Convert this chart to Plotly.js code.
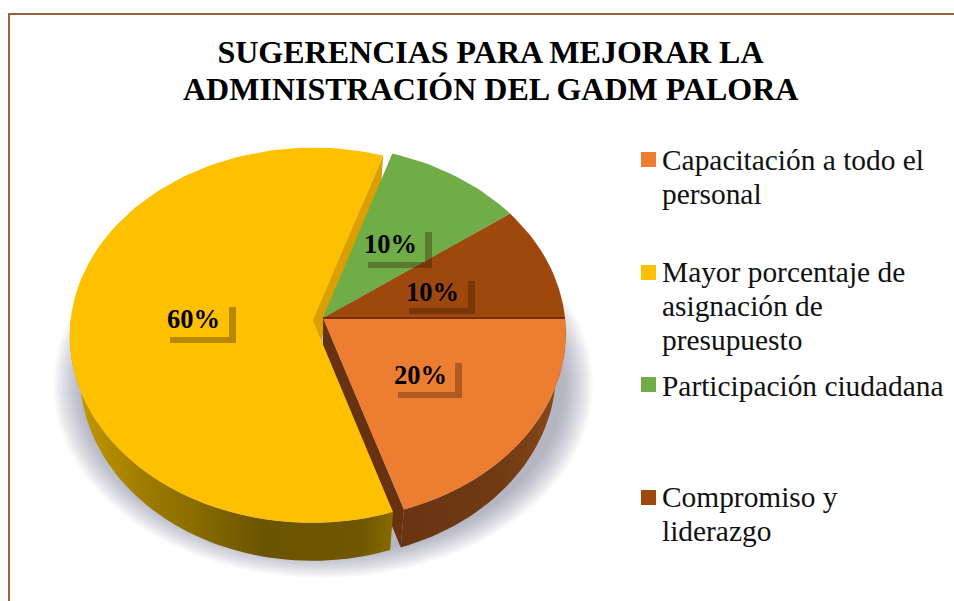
<!DOCTYPE html>
<html>
<head>
<meta charset="utf-8">
<script src="https://cdn.plot.ly/plotly-3.0.1.min.js"></script>
<style>html,body{margin:0;padding:0;background:#fff}#chart{width:954px;height:601px}</style>
</head>
<body>
<div id="chart"></div>
<script>
const titleLines = ['SUGERENCIAS PARA MEJORAR LA', 'ADMINISTRACIÓN DEL GADM PALORA'];
const categories = ['Capacitación a todo el<br>personal', 'Mayor porcentaje de<br>asignación de<br>presupuesto', 'Participación ciudadana', 'Compromiso y<br>liderazgo'];
const values = [20, 60, 10, 10];
const faceColors = ['#ED7D31', '#FFC000', '#70AD47', '#9E480E'];
const pullX = [0, -0.042, 0, 0];
const pullY = [0, 0.012, 0, 0];
const labelBoxes = [[392, 455, 357, 392], [164, 229, 301, 337], [362, 425, 226, 262], [403, 468, 275, 308]];
const legendSwatchY = [159.5, 272.5, 384.5, 497.5];
const legendFirstLineY = [160, 272, 386, 497];
const legendLineGap = 34;

const cx = 323, cy = 318, R = 242, Ry = 186, k = 0.08, depth = 38, shrink = 0.96;
const rad = d => d * Math.PI / 180;

function project(u, v, low) {
  const s = 1 / (1 - k * v);
  let x = cx + R * u * s, y = cy + Ry * v * s;
  if (low) { x = cx + (x - cx) * shrink; y += depth; }
  return [x, y];
}
let acc = 0;
const slices = values.map((val, i) => {
  const a0 = acc * 3.6; acc += val; const a1 = acc * 3.6;
  return { i, a0, a1, ox: pullX[i], oy: pullY[i] };
});
function arc(sl, low, from, to) {
  const pts = [], n = Math.max(1, Math.ceil(Math.abs(to - from) / 2));
  for (let j = 0; j <= n; j++) {
    const t = rad(from + (to - from) * j / n);
    pts.push(project(Math.cos(t) + sl.ox, Math.sin(t) + sl.oy, low));
  }
  return pts;
}
const apex = (sl, low) => project(sl.ox, sl.oy, low);
function poly(pts, extra) {
  return Object.assign({
    type: 'scatter', mode: 'lines', x: pts.map(p => p[0]), y: pts.map(p => p[1]),
    fill: 'toself', line: { width: 0 }, hoverinfo: 'skip', showlegend: false
  }, extra);
}
// only the front of the rim (east round to west) can be seen
const rimSide = sl => {
  const end = Math.min(sl.a1, 180);
  return arc(sl, false, sl.a0, end).concat(arc(sl, true, end, sl.a0));
};
const cutSide = (sl, a) => {
  const top = arc(sl, false, a, a)[0], low = arc(sl, true, a, a)[0];
  return [apex(sl, false), top, low, apex(sl, true)];
};
const faceOf = sl => [apex(sl, false)].concat(arc(sl, false, sl.a0, sl.a1));

const traces = [];
// soft shadow under the pie
for (let l = 0; l < 18; l++) {
  const rx = 270 - l * 1.7, ry = 193 - l * 1.4, pts = [];
  for (let a = 0; a <= 360; a += 3) pts.push([cx + rx * Math.cos(rad(a)), 385 + ry * Math.sin(rad(a))]);
  traces.push(poly(pts, { fillcolor: 'rgba(125,125,130,0.035)' }));
}
const [sOrange, sYellow, sGreen, sBrown] = slices;
traces.push(poly(cutSide(sYellow, sYellow.a1), { fillcolor: '#D9A000' }));
traces.push(poly(cutSide(sGreen, sGreen.a0), { fillcolor: '#70AD47' }));
traces.push(poly(rimSide(sOrange), { fillgradient: { type: 'horizontal', colorscale: [[0, '#6A3412'], [0.6, '#703A13'], [1, '#8A4A1C']] } }));
traces.push(poly(cutSide(sOrange, sOrange.a1), { fillcolor: '#66320F' }));
traces.push(poly(rimSide(sYellow), { fillgradient: { type: 'horizontal', colorscale: [[0, '#C79A00'], [0.25, '#9C7A00'], [0.6, '#6B5400'], [0.9, '#6F5600'], [1, '#8A6B00']] } }));
[sBrown, sGreen, sOrange, sYellow].forEach(sl => {
  traces.push(poly(faceOf(sl), { fillcolor: faceColors[sl.i], name: categories[sl.i].replace(/<br>/g, ' ') }));
});
// dark seam between the brown and orange slices
const seam = [apex(sBrown, false), arc(sOrange, false, 0, 0)[0]];
traces.push({ type: 'scatter', mode: 'lines', x: seam.map(p => p[0]), y: seam.map(p => p[1]), line: { color: '#7A2E05', width: 2 }, hoverinfo: 'skip', showlegend: false });
// legend swatches
traces.push({
  type: 'scatter', mode: 'markers', x: categories.map(() => 648.5), y: legendSwatchY,
  marker: { symbol: 'square', size: 15, color: faceColors, line: { width: 0 } }, hoverinfo: 'skip', showlegend: false
});

const shapes = [{
  type: 'path', xref: 'x', yref: 'y', path: 'M 9 601 L 9 14 L 954 14',
  line: { color: '#9A6236', width: 2 }, fillcolor: 'rgba(0,0,0,0)', layer: 'above'
}];
const annotations = [];
labelBoxes.forEach((b, i) => {
  shapes.push({ type: 'rect', xref: 'x', yref: 'y', x0: b[0] + 6, x1: b[1] + 7, y0: b[2] + 6, y1: b[3] + 6, fillcolor: 'rgba(40,20,0,0.32)', line: { width: 0 }, layer: 'above' });
  shapes.push({ type: 'rect', xref: 'x', yref: 'y', x0: b[0], x1: b[1], y0: b[2], y1: b[3], fillcolor: faceColors[i], line: { width: 0 }, layer: 'above' });
  annotations.push({
    xref: 'x', yref: 'y', x: (b[0] + b[1]) / 2 - 3, y: (b[2] + b[3]) / 2, text: values[i] + '%', showarrow: false,
    font: { family: 'Liberation Serif', size: 26.5, color: '#000', weight: 700 }
  });
});
categories.forEach((c, i) => {
  c.split('<br>').forEach((line, j) => {
    annotations.push({
      xref: 'x', yref: 'y', x: 660, y: legendFirstLineY[i] + j * legendLineGap, xanchor: 'left', yanchor: 'middle', align: 'left',
      text: line, showarrow: false, font: { family: 'Liberation Serif', size: 29.4, color: '#111' }
    });
  });
});
annotations.push({
  xref: 'x', yref: 'y', x: 490, y: 89, xanchor: 'center', yanchor: 'middle', text: titleLines[1], showarrow: false,
  font: { family: 'Liberation Serif', size: 32, color: '#000', weight: 700 }
});

const layout = {
  width: 954, height: 601,
  margin: { l: 0, r: 0, t: 0, b: 0 },
  paper_bgcolor: '#fff', plot_bgcolor: '#fff',
  showlegend: false,
  title: {
    text: titleLines[0], x: 490.5 / 954, xanchor: 'center', y: 1 - 52 / 601, yanchor: 'middle',
    font: { family: 'Liberation Serif', size: 32, color: '#000', weight: 700 }
  },
  xaxis: { range: [0, 954], visible: false, fixedrange: true },
  yaxis: { range: [601, 0], visible: false, fixedrange: true },
  shapes, annotations
};
Plotly.newPlot('chart', traces, layout, { displayModeBar: false, staticPlot: true });
</script>
</body>
</html>
